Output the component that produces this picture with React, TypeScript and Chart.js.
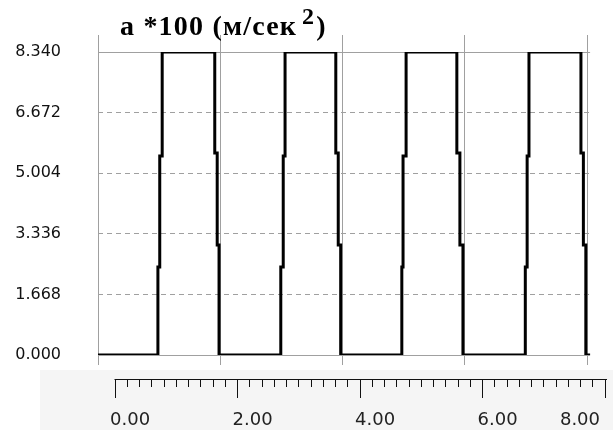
import React, { useEffect, useRef } from 'react';
import { Chart, registerables, LinearScale } from 'chart.js';

// ---- data ----
const timeSec = [0, 0.98, 1.01, 1.05, 1.91, 1.95, 1.98, 2.99, 3.03, 3.06, 3.89, 3.93, 3.97, 4.97, 4.99, 5.04, 5.87, 5.92, 5.97, 6.99, 7.02, 7.05, 7.9, 7.94, 7.98, 8.05];
const accel = [0, 2.42, 5.48, 8.34, 5.56, 3.03, 0, 2.42, 5.48, 8.34, 5.56, 3.03, 0, 2.42, 5.48, 8.34, 5.56, 3.03, 0, 2.42, 5.48, 8.34, 5.56, 3.03, 0, 0];
const yTicks = [0, 1.668, 3.336, 5.004, 6.672, 8.34];
const gridTimes = [0, 2, 4, 6, 8];
const rulerMajor = [0, 2, 4, 6, 8];
const rulerMinorPerMajor = 10;
const titleMain = 'a *100 (м/сек';
const titleSup = '2';
const titleEnd = ')';

const PLOT_END = timeSec[timeSec.length - 1];

// y scale whose horizontal grid lines stop where the plotted time range ends
class PlotYScale extends LinearScale {
  static id = 'plotY';
  static defaults = {};
  _computeGridLineItems(chartArea: any) {
    const items = (super._computeGridLineItems as any)(chartArea);
    const xs = (this as any).chart.scales.x;
    const limit = xs.getPixelForValue(PLOT_END);
    items.forEach((it: any) => {
      if (it.x2 > limit) it.x2 = limit;
    });
    return items;
  }
}

// ruler axis: short minor ticks, last label right-aligned, line starting at 0
class RulerScale extends LinearScale {
  static id = 'ruler';
  static defaults = {};
  _computeGridLineItems(chartArea: any) {
    const items = (super._computeGridLineItems as any)(chartArea);
    items.forEach((it: any, i: number) => {
      const t: any = (this as any).ticks[i];
      if (t && !t.major) it.ty2 = it.ty1 + 7;
    });
    return items;
  }
  _computeLabelItems(chartArea: any) {
    const items = (super._computeLabelItems as any)(chartArea);
    for (let i = items.length - 1; i >= 0; i--) {
      if (items[i].label) {
        items[i].options.textAlign = 'right';
        break;
      }
    }
    return items;
  }
  drawBorder() {
    const self: any = this;
    const ctx = self.ctx;
    const x1 = self.getPixelForValue(rulerMajor[0]) - 0.5;
    const x2 = self.right + 1;
    const y = Math.round(self.top) + 0.5;
    ctx.save();
    ctx.strokeStyle = '#111';
    ctx.lineWidth = 1;
    ctx.beginPath();
    ctx.moveTo(x1, y);
    ctx.lineTo(x2, y);
    ctx.stroke();
    ctx.restore();
  }
}

Chart.register(...registerables, RulerScale as any, PlotYScale as any);

const bgPlugin = {
  id: 'rulerBg',
  beforeDraw(chart: any) {
    const r = chart.scales.xr;
    const ctx = chart.ctx;
    ctx.save();
    ctx.fillStyle = '#ffffff';
    ctx.fillRect(0, 0, chart.width, chart.height);
    ctx.fillStyle = '#f5f5f5';
    ctx.fillRect(40, r.top - 9, chart.width - 40, chart.height - r.top + 9);
    ctx.restore();
  },
};

const titlePlugin = {
  id: 'supTitle',
  afterDraw(chart: any) {
    const ctx = chart.ctx;
    const ca = chart.chartArea;
    ctx.save();
    ctx.fillStyle = '#000';
    ctx.textBaseline = 'alphabetic';
    ctx.textAlign = 'left';
    const y = ca.top - 17;
    let x = ca.left + 22;
    try { (ctx as any).letterSpacing = '1.2px'; } catch (e) { /* ignore */ }
    ctx.font = 'bold 28px "Liberation Serif", "DejaVu Serif", serif';
    ctx.fillText(titleMain, x, y);
    x += ctx.measureText(titleMain).width + 5;
    ctx.font = 'bold 24px "Liberation Serif", "DejaVu Serif", serif';
    ctx.fillText(titleSup, x, y - 11);
    x += ctx.measureText(titleSup).width + 1;
    ctx.font = 'bold 28px "Liberation Serif", "DejaVu Serif", serif';
    ctx.fillText(titleEnd, x, y);
    ctx.restore();
  },
};

const GRID = '#a0a0a0';
const noPad = (s: any) => { s.paddingLeft = 0; s.paddingRight = 0; s.paddingTop = 0; s.paddingBottom = 0; };

export default function App() {
  const ref = useRef<HTMLCanvasElement>(null);
  useEffect(() => {
    document.body.style.margin = '0';
    const chart = new Chart(ref.current as HTMLCanvasElement, {
      type: 'line',
      data: {
        datasets: [
          {
            data: timeSec.map((t, i) => ({ x: t, y: accel[i] })),
            borderColor: '#000',
            borderWidth: 3,
            pointRadius: 0,
            stepped: 'before',
            fill: false,
            tension: 0,
            xAxisID: 'x',
            yAxisID: 'y',
          } as any,
        ],
      },
      plugins: [bgPlugin, titlePlugin],
      options: {
        responsive: false,
        animation: false,
        events: [],
        layout: { padding: { top: 35, left: 0, right: 7, bottom: 2 } },
        plugins: { legend: { display: false }, tooltip: { enabled: false }, title: { display: false } },
        scales: {
          x: {
            type: 'linear',
            position: 'bottom',
            min: 0,
            max: 8.31,
            bounds: 'data',
            weight: 0,
            afterBuildTicks: (s: any) => { s.ticks = gridTimes.map((v) => ({ value: v })); },
            afterFit: (s: any) => { noPad(s); s.height = 24; },
            ticks: { display: false },
            grid: { color: GRID, tickColor: GRID, tickLength: 10, lineWidth: 1 },
            border: { display: false },
          },
          xt: {
            type: 'linear',
            axis: 'x',
            position: 'top',
            min: 0,
            max: 8.31,
            bounds: 'data',
            afterBuildTicks: (s: any) => { s.ticks = gridTimes.map((v) => ({ value: v })); },
            afterFit: (s: any) => { noPad(s); s.height = 17; },
            ticks: { display: false },
            grid: { color: GRID, tickColor: GRID, tickLength: 17, drawOnChartArea: false },
            border: { display: false },
          },
          y: {
            type: 'plotY',
            position: 'left',
            min: 0,
            max: 8.34,
            bounds: 'data',
            afterBuildTicks: (s: any) => { s.ticks = yTicks.map((v) => ({ value: v })); },
            afterFit: (s: any) => { noPad(s); s.width = 98; },
            ticks: {
              padding: 37,
              color: '#111',
              font: { family: 'DejaVu Sans', size: 16 },
              callback: (v: any) => Number(v).toFixed(3),
            },
            grid: { color: GRID, drawTicks: false, lineWidth: 1 },
            border: {
              display: false,
              dash: (c: any) => (c.tick && (c.tick.value === yTicks[0] || c.tick.value === yTicks[yTicks.length - 1]) ? [] : [5, 4]),
            },
          } as any,
          xr: {
            type: 'ruler',
            axis: 'x',
            position: 'bottom',
            weight: 1,
            min: -0.2776,
            max: 8.016,
            bounds: 'data',
            afterBuildTicks: (s: any) => {
              const ticks: any[] = [];
              const first = rulerMajor[0];
              const last = rulerMajor[rulerMajor.length - 1];
              const step = (rulerMajor[1] - rulerMajor[0]) / rulerMinorPerMajor;
              const n = Math.round((last - first) / step);
              for (let i = 0; i <= n; i++) {
                ticks.push({ value: first + i * step, major: i % rulerMinorPerMajor === 0 });
              }
              s.ticks = ticks;
            },
            afterFit: (s: any) => { noPad(s); s.height = 49; },
            ticks: {
              autoSkip: false,
              maxRotation: 0,
              minRotation: 0,
              align: 'start',
              labelOffset: -5,
              padding: 12,
              color: '#222',
              font: { family: 'DejaVu Sans', size: 18 },
              callback: function (this: any, v: any, i: number, ticks: any[]) {
                return ticks[i] && ticks[i].major ? Number(v).toFixed(2) : '';
              },
            },
            grid: { drawOnChartArea: false, tickLength: 19, tickColor: '#111', tickWidth: 1, color: '#111' },
            border: { display: true, color: '#111', width: 1 },
          } as any,
        },
      } as any,
    });
    return () => chart.destroy();
  }, []);
  return (
    <div style={{ width: 613, height: 430 }}>
      <canvas ref={ref} width={613} height={430} style={{ display: 'block' }} />
    </div>
  );
}
